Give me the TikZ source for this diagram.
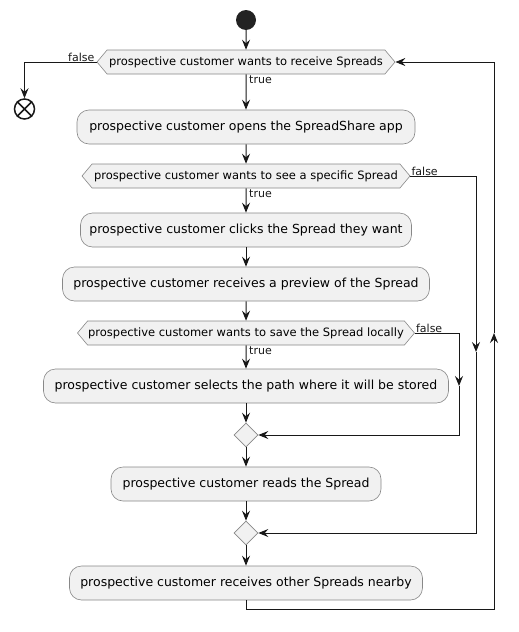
\documentclass[tikz,border=0pt]{standalone}
\usepackage{fontspec}
\setmainfont{DejaVu Sans}
\usetikzlibrary{arrows.meta,shapes.symbols,shapes.geometric}
\definecolor{boxfill}{HTML}{F1F1F1}
\definecolor{boxline}{HTML}{888888}
\definecolor{ink}{HTML}{181818}
\definecolor{dot}{HTML}{222222}
\tikzset{
  act/.style={draw=boxline, fill=boxfill, rounded corners=12pt, minimum height=34pt, inner sep=0pt, line width=0.6pt, font=\fontsize{12.5}{14}\selectfont},
  dec/.style={draw=boxline, fill=boxfill, signal, signal to=west and east, signal pointer angle=100, minimum height=24pt, inner xsep=0pt, inner ysep=0pt, line width=0.6pt, font=\fontsize{11.5}{13}\selectfont},
  merge/.style={draw=boxline, fill=boxfill, diamond, minimum width=24pt, minimum height=24pt, inner sep=0pt, line width=0.6pt},
  flow/.style={draw=ink, line width=1pt, -{Stealth[length=10pt,width=8pt,inset=3.5pt]}},
  lbl/.style={font=\fontsize{11}{13}\selectfont, inner sep=1pt, text=ink},
  startdot/.style={circle, fill=dot, minimum size=20pt, inner sep=0pt},
  enddot/.style={circle, draw=ink, fill=white, line width=1.5pt, minimum size=20pt, inner sep=0pt}
}
\begin{document}
\begin{tikzpicture}[x=1pt,y=-1pt]
\useasboundingbox (0,0) rectangle (519,632);
\node[startdot] (start) at (246,20) {};
\node[dec, minimum width=298pt] (d1) at (246,62) {prospective customer wants to receive Spreads};
\node[enddot] (end) at (24.5,109) {};
\draw[ink, line width=1.5pt] (end.north west) -- (end.south east) (end.north east) -- (end.south west);
\node[act, minimum width=338pt] (b1) at (246,127) {prospective customer opens the SpreadShare app};
\node[dec, minimum width=328pt] (d2) at (246,176) {prospective customer wants to see a specific Spread};
\node[act, minimum width=331pt] (b2) at (246,230) {prospective customer clicks the Spread they want};
\node[act, minimum width=367pt] (b3) at (246,284) {prospective customer receives a preview of the Spread};
\node[dec, minimum width=337pt] (d3) at (246,333) {prospective customer wants to save the Spread locally};
\node[act, minimum width=405pt] (b4) at (246,386) {prospective customer selects the path where it will be stored};
\node[merge] (m1) at (246,435) {};
\node[act, minimum width=270pt] (b5) at (246,484) {prospective customer reads the Spread};
\node[merge] (m2) at (246,533) {};
\node[act, minimum width=353pt] (b6) at (246,583) {prospective customer receives other Spreads nearby};

\draw[flow] (start) -- (d1);
\draw[flow] (d1.west) -| (end.north);
\draw[flow] (d1) -- (b1);
\draw[flow] (b1) -- (d2);
\draw[flow] (d2) -- (b2);
\draw[flow] (b2) -- (b3);
\draw[flow] (b3) -- (d3);
\draw[flow] (d3) -- (b4);
\draw[flow] (b4) -- (m1);
\draw[flow] (m1) -- (b5);
\draw[flow] (b5) -- (m2);
\draw[flow] (m2) -- (b6);

\coordinate (r2) at (476,352);
\draw[flow] (d2.east) -| (r2);
\draw[flow] (r2) |- (m2.east);
\coordinate (r3) at (459,386);
\draw[flow] (d3.east) -| (r3);
\draw[flow] (r3) |- (m1.east);
\coordinate (lp) at (494,609);
\coordinate (up) at (494,333);
\draw[flow] (b6.south) |- (lp) -- (up);
\draw[flow] (up) |- (d1.east);

\node[lbl, anchor=south east] (f1) at ([xshift=-1pt,yshift=-1pt]d1.west) {false};
\node[lbl, anchor=north west] (t1) at ([xshift=2pt]d1.south) {true};
\node[lbl, anchor=south west] (f2) at ([yshift=-1pt]d2.east) {false};
\node[lbl, anchor=north west] (t2) at ([xshift=2pt]d2.south) {true};
\node[lbl, anchor=south west] (f3) at ([yshift=-1pt]d3.east) {false};
\node[lbl, anchor=north west] (t3) at ([xshift=2pt]d3.south) {true};
\end{tikzpicture}
\end{document}
